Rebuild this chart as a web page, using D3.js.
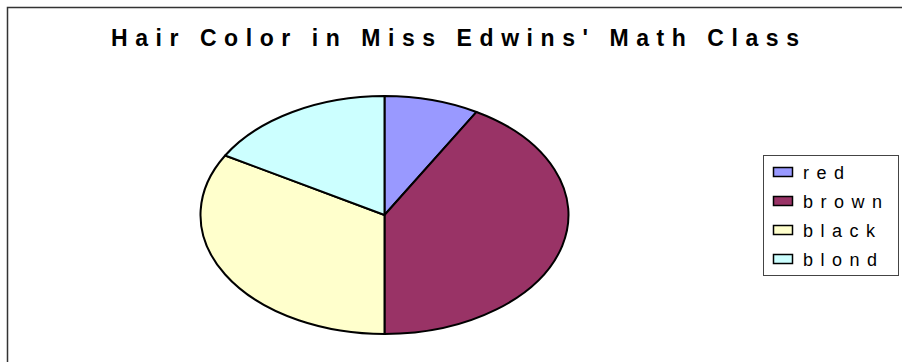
<!DOCTYPE html>
<html>
<head>
<meta charset="utf-8">
<script src="https://cdn.jsdelivr.net/npm/d3@7"></script>
<style>
  body { margin: 0; background: #fff; }
  svg { display: block; font-family: "Liberation Sans", Arial, sans-serif; }
</style>
</head>
<body>
<script>
// chart data
var categories = ["red", "brown", "black", "blond"];
var counts = [2, 10, 8, 4];
var colors = ["#9999FF", "#993366", "#FFFFCC", "#CCFFFF"];
var title = "Hair Color in Miss Edwins' Math Class";

var width = 902,
    height = 362;

var svg = d3.select("body").append("svg")
    .attr("width", width)
    .attr("height", height);

// chart area frame (right and bottom edges fall outside the picture)
svg.append("rect")
    .attr("x", 7.5)
    .attr("y", 7.5)
    .attr("width", 1000)
    .attr("height", 1000)
    .attr("fill", "#fff")
    .attr("stroke", "#333")
    .attr("stroke-width", 1.5);

// title
svg.append("text")
    .attr("x", 111)
    .attr("y", 46)
    .attr("font-size", 23)
    .attr("font-weight", "bold")
    .attr("textLength", 688)
    .attr("lengthAdjust", "spacing")
    .attr("fill", "#000")
    .text(title);

// pie, squashed into an ellipse
var cx = 384.5, cy = 215, rx = 184, ry = 119;

var pie = d3.pie().sort(null).value(function (d) { return d; });
var arc = d3.arc().innerRadius(0).outerRadius(ry);

var pieG = svg.append("g")
    .attr("transform", "translate(" + cx + "," + cy + ") scale(" + (rx / ry) + ",1)");

pieG.selectAll("path.slice")
    .data(pie(counts))
    .enter().append("path")
    .attr("class", "slice")
    .attr("d", arc)
    .attr("fill", function (d, i) { return colors[i]; })
    .attr("stroke", "#000")
    .attr("stroke-width", 2)
    .attr("stroke-linejoin", "round")
    .attr("vector-effect", "non-scaling-stroke");

// legend
var legend = svg.append("g");

legend.append("rect")
    .attr("x", 763.5)
    .attr("y", 155.5)
    .attr("width", 135)
    .attr("height", 120)
    .attr("fill", "#fff")
    .attr("stroke", "#444")
    .attr("stroke-width", 1);

var row = d3.scaleBand()
    .domain(categories)
    .range([160, 276]);

var item = legend.selectAll("g.item")
    .data(categories)
    .enter().append("g")
    .attr("class", "item")
    .attr("transform", function (d) { return "translate(0," + row(d) + ")"; });

item.append("rect")
    .attr("x", 773.5)
    .attr("y", 7.5)
    .attr("width", 19)
    .attr("height", 9)
    .attr("fill", function (d, i) { return colors[i]; })
    .attr("stroke", "#000")
    .attr("stroke-width", 1.5);

item.append("text")
    .attr("x", 803)
    .attr("y", 19)
    .attr("font-size", 18)
    .attr("letter-spacing", 7.5)
    .attr("fill", "#000")
    .text(function (d) { return d; });
</script>
</body>
</html>
